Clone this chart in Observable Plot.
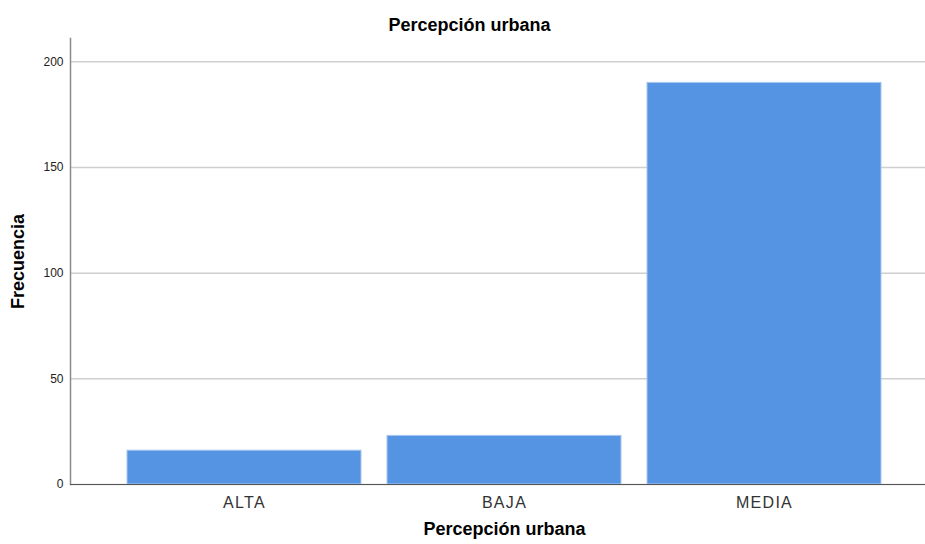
<!DOCTYPE html>
<html>
<head>
<meta charset="utf-8">
<script src="https://cdn.jsdelivr.net/npm/d3@7"></script>
<script src="https://cdn.jsdelivr.net/npm/@observablehq/plot@0.6"></script>
<style>
  body { margin: 0; background: #fff; font-family: "Liberation Sans", Arial, sans-serif; }
  #wrap { position: relative; width: 925px; height: 544px; overflow: hidden; }
  #title { position: absolute; top: 15px; left: 7px; width: 925px; text-align: center; font-weight: bold; font-size: 18px; color: #000; }
  g[aria-label="y-axis label"] text { font-weight: bold; font-size: 18px; fill: #000; }
  g[aria-label="x-axis tick label"] text { font-size: 16px; fill: #333; letter-spacing: 1.3px; }
  g[aria-label="y-axis tick label"] text { font-size: 12px; fill: #222; }
</style>
</head>
<body>
<div id="wrap">
  <div id="title">Percepción urbana</div>
</div>
<script>
const categories = ["ALTA", "BAJA", "MEDIA"];
const frequencies = [16, 23, 190];
const yTicks = [0, 50, 100, 150, 200];
const titleText = "Percepción urbana";
const xLabel = "Percepción urbana";
const yLabel = "Frecuencia";

document.getElementById("title").textContent = titleText;
const data = categories.map((c, i) => ({category: c, value: frequencies[i]}));

const chart = Plot.plot({
  width: 925,
  height: 544,
  marginTop: 38,
  marginBottom: 60,
  marginLeft: 70,
  marginRight: 0,
  style: {fontFamily: "'Liberation Sans', Arial, sans-serif", background: "transparent"},
  x: {domain: categories, paddingInner: 0.1, paddingOuter: 0.05, insetLeft: 44, insetRight: 31},
  y: {domain: [0, 211]},
  marks: [
    Plot.gridY(yTicks, {stroke: "#cfcfcf", strokeOpacity: 1, strokeWidth: 1.5}),
    Plot.barY(data, {x: "category", y: "value", fill: "#5594e3", stroke: "#a9c8f0", strokeWidth: 1}),
    Plot.frame({anchor: "left", stroke: "#8a8a8a", strokeWidth: 1.5}),
    Plot.ruleY([0], {stroke: "#555", strokeWidth: 1}),
    Plot.axisY({ticks: yTicks, tickSize: 0, tickPadding: 7, label: yLabel, labelAnchor: "center", labelArrow: "none", labelOffset: 59}),
    Plot.axisX({tickSize: 0, tickPadding: 12, label: null}),
    Plot.text([xLabel], {text: d => d, frameAnchor: "bottom", dx: 6.5, dy: 50, fontWeight: "bold", fontSize: 18, fill: "#000"})
  ]
});
document.getElementById("wrap").appendChild(chart);
chart.style.position = "absolute";
chart.style.left = "0";
chart.style.top = "0";
</script>
</body>
</html>
